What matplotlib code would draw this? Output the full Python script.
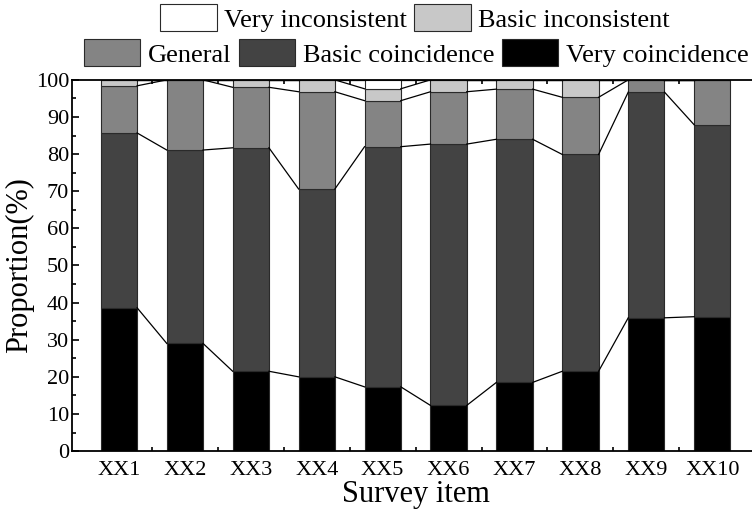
import numpy as np
import matplotlib
matplotlib.use('Agg')
import matplotlib.pyplot as plt
from matplotlib.patches import Patch
from matplotlib.ticker import MultipleLocator

plt.rcParams['font.family'] = ['Liberation Serif', 'DejaVu Serif']

items = ['XX1', 'XX2', 'XX3', 'XX4', 'XX5', 'XX6', 'XX7', 'XX8', 'XX9', 'XX10']
very_coin = [38.6, 29.0, 21.5, 20.0, 17.3, 12.3, 18.5, 21.5, 35.9, 36.2]
basic_coin = [47.1, 52.1, 60.2, 50.6, 64.7, 70.4, 65.5, 58.4, 60.8, 51.7]
general = [12.7, 18.9, 16.3, 26.2, 12.4, 14.1, 13.5, 15.4, 3.3, 12.1]
basic_incon = [1.6, 0.0, 2.0, 3.2, 3.2, 3.2, 2.5, 4.7, 0.0, 0.0]
very_incon = [0.0, 0.0, 0.0, 0.0, 2.4, 0.0, 0.0, 0.0, 0.0, 0.0]

series = [very_coin, basic_coin, general, basic_incon, very_incon]
names = ['Very coincidence', 'Basic coincidence', 'General',
         'Basic inconsistent', 'Very inconsistent']
colors = ['#000000', '#434343', '#848484', '#c8c8c8', '#ffffff']

fig = plt.figure(figsize=(7.52, 5.12), dpi=100)
ax = fig.add_axes([0.0957, 0.119, 0.914, 0.725])

x = np.arange(len(items))
w = 0.55
bottom = np.zeros(len(items))
for vals, c in zip(series, colors):
    vals = np.array(vals)
    ax.bar(x, vals, w, bottom=bottom, color=c, edgecolor='#2a2a2a',
           linewidth=0.8, zorder=2)
    bottom = bottom + vals
    # connector lines between neighbouring bars
    for i in range(len(items) - 1):
        ax.plot([x[i] + w / 2, x[i + 1] - w / 2], [bottom[i], bottom[i + 1]],
                color='black', lw=0.9, zorder=3)

ax.set_xlim(-0.713, len(items) - 1 + 0.713)
ax.set_ylim(0, 100)
ax.set_xticks(x)
ax.set_xticklabels(items)
ax.set_xticks(x[:-1] + 0.5, minor=True)
ax.yaxis.set_major_locator(MultipleLocator(10))
ax.yaxis.set_minor_locator(MultipleLocator(5))
ax.tick_params(which='both', direction='in', top=True, right=False,
               labelsize=16, width=1.2)
ax.tick_params(which='major', length=5)
ax.tick_params(which='minor', length=3)
ax.tick_params(axis='x', pad=7)
ax.tick_params(axis='y', pad=2)
for s in ax.spines.values():
    s.set_linewidth(1.3)

ax.set_xlabel('Survey item', fontsize=22, labelpad=0)
ax.set_ylabel('Proportion(%)', fontsize=22, labelpad=1)

h = {n: Patch(facecolor=c, edgecolor='#2a2a2a', linewidth=0.8)
     for n, c in zip(names, colors)}
row1 = ['Very inconsistent', 'Basic inconsistent']
row2 = ['General', 'Basic coincidence', 'Very coincidence']
kw = dict(frameon=False, fontsize=19, handlelength=2.15, handleheight=1.2,
          handletextpad=0.28, columnspacing=0.28, borderpad=0, borderaxespad=0)
fig.legend([h[n] for n in row1], row1, ncol=2, loc='center',
           bbox_to_anchor=(415 / 752, 1 - 18 / 512), **kw)
fig.legend([h[n] for n in row2], row2, ncol=3, loc='center',
           bbox_to_anchor=(416 / 752, 1 - 53 / 512), **kw)

fig.savefig('out.png', dpi=100)
